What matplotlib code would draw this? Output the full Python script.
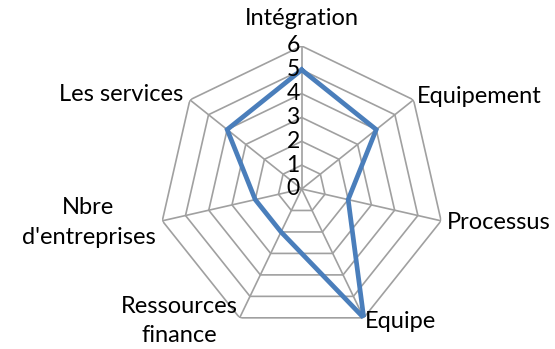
import numpy as np
import matplotlib
matplotlib.use("Agg")
import matplotlib.pyplot as plt
import matplotlib.transforms as mtransforms

categories = ["Intégration", "Equipement", "Processus", "Equipe",
              "Ressources\nfinance", "Nbre\nd'entreprises", "Les services"]
values = [5, 4, 2, 6, 2, 2, 4]
tick_labels = ["0", "1", "2", "3", "4", "5", "6"]

plt.rcParams['font.family'] = ['Lato', 'DejaVu Sans']

W, H = 555, 349
fig = plt.figure(figsize=(W / 100, H / 100), dpi=100)
cx, cy, R = 301.7, 189.0, 143.0
ax = fig.add_axes([(cx - R) / W, (H - cy - R) / H, 2 * R / W, 2 * R / H],
                  projection='polar')
ax.set_theta_offset(np.pi / 2)
ax.set_theta_direction(-1)
ax.set_ylim(0, 6)
ax.set_axis_off()

n = len(categories)
theta = np.arange(n) * 2 * np.pi / n
theta_c = np.append(theta, theta[0])

grid_col = '#a0a0a0'
for lvl in range(1, 7):
    ax.plot(theta_c, [lvl] * (n + 1), color=grid_col, lw=1.2, zorder=1)
for t in theta:
    ax.plot([t, t], [0, 6], color=grid_col, lw=1.2, zorder=1)

vals_c = values + [values[0]]
ax.plot(theta_c, vals_c, color='#4a7ebb', lw=3.4, zorder=3, solid_joinstyle='miter')

# radial tick labels
off = ax.transData + mtransforms.ScaledTranslation(-2 / 100, 0, fig.dpi_scale_trans)
for i, lab in enumerate(tick_labels):
    ax.text(0, i, lab, transform=off, ha='right', va='center',
            fontsize=16.5, zorder=4)

fs = 17
ax.text(theta[0], 7.15, categories[0], ha='center', va='center', fontsize=fs, clip_on=False)
ax.text(theta[1], 6.2, categories[1], ha='left', va='center', fontsize=fs, clip_on=False)
ax.text(theta[2], 6.25, categories[2], ha='left', va='center', fontsize=fs, clip_on=False)
ax.text(theta[3], 6.15, categories[3], ha='left', va='center', fontsize=fs, clip_on=False)
ax.text(theta[4], 6.15, categories[4], ha='right', va='center', fontsize=fs,
        multialignment='center', clip_on=False, linespacing=1.5)
ax.text(theta[5], 6.3, categories[5], ha='right', va='center', fontsize=fs,
        multialignment='center', clip_on=False, linespacing=1.5)
ax.text(theta[6], 6.35, categories[6], ha='right', va='center', fontsize=fs, clip_on=False)

fig.savefig("out.png", dpi=100)
